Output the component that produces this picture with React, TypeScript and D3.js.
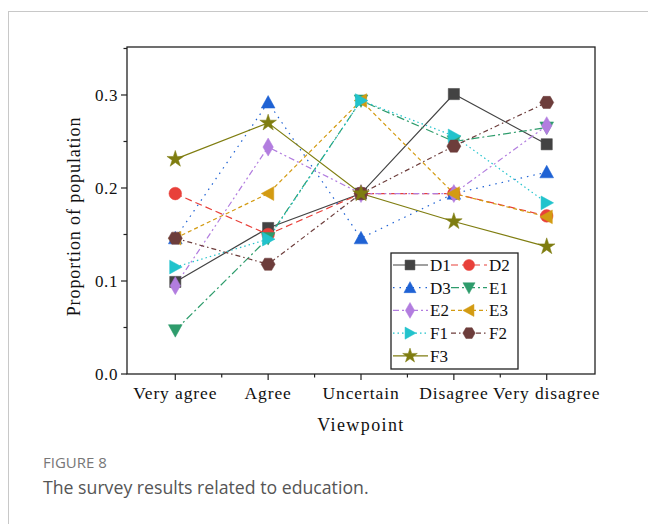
import React from "react";
import * as d3 from "d3";

const categories = ["Very agree", "Agree", "Uncertain", "Disagree", "Very disagree"];
const seriesNames = ["D1", "D2", "D3", "E1", "E2", "E3", "F1", "F2", "F3"];
const D1 = [0.099, 0.157, 0.194, 0.301, 0.247];
const D2 = [0.194, 0.15, 0.194, 0.194, 0.17];
const D3 = [0.146, 0.292, 0.146, 0.194, 0.217];
const E1 = [0.047, 0.146, 0.294, 0.25, 0.265];
const E2 = [0.095, 0.244, 0.194, 0.194, 0.267];
const E3 = [0.146, 0.194, 0.294, 0.194, 0.169];
const F1 = [0.115, 0.145, 0.294, 0.256, 0.184];
const F2 = [0.146, 0.118, 0.194, 0.245, 0.292];
const F3 = [0.231, 0.27, 0.194, 0.164, 0.137];
const seriesValues = [D1, D2, D3, E1, E2, E3, F1, F2, F3];
const yTicks = [0, 0.1, 0.2, 0.3];
const yMinorTicks = [0.05, 0.15, 0.25, 0.35];

const colors = ["#434343", "#e8403a", "#1f62d4", "#2e9c6c", "#b27ddf", "#d39b12", "#22c3cc", "#6d3d3b", "#7f7d10"];
const dashes = ["", "7,4", "1.5,5", "8,3,2,3", "6,3,2,3,2,3", "4,3", "1.5,3", "5,3,1.5,3", ""];
const markers = [d3.symbolSquare, d3.symbolCircle, "up", "down", d3.symbolDiamond, "left", "right", "hex", d3.symbolStar];

const serif = "'Liberation Serif', 'Times New Roman', serif";
const sans = "'Open Sans', 'Noto Sans', sans-serif";

function markerPath(m: any, size: number): string {
  const s = size;
  if (m === "up") return `M0,${-s * 0.55}L${s * 0.55},${s * 0.45}L${-s * 0.55},${s * 0.45}Z`;
  if (m === "down") return `M0,${s * 0.55}L${s * 0.55},${-s * 0.45}L${-s * 0.55},${-s * 0.45}Z`;
  if (m === "left") return `M${-s * 0.55},0L${s * 0.45},${-s * 0.55}L${s * 0.45},${s * 0.55}Z`;
  if (m === "right") return `M${s * 0.55},0L${-s * 0.45},${-s * 0.55}L${-s * 0.45},${s * 0.55}Z`;
  if (m === "hex") {
    const r = s * 0.56;
    const pts = d3.range(6).map((i) => {
      const a = (Math.PI / 3) * i;
      return [r * Math.cos(a), r * Math.sin(a)];
    });
    return "M" + pts.map((p) => p.join(",")).join("L") + "Z";
  }
  const area = m === d3.symbolSquare ? s * s * 0.8 : m === d3.symbolStar ? s * s * 0.55 : m === d3.symbolDiamond ? s * s * 0.6 : s * s * 0.8;
  return d3.symbol(m, area)() as string;
}

export default function App() {
  const left = 127, right = 595, top = 47, bottom = 374;
  const x = d3.scaleLinear().domain([0.48, 5.52]).range([left, right]);
  const y = d3.scaleLinear().domain([0, 0.3516]).range([bottom, top]);
  const line = d3.line<number>().x((_, i) => x(i + 1)).y((d) => y(d));
  const msize = 12.5;

  const legendRows = [
    [0, 1],
    [2, 3],
    [4, 5],
    [6, 7],
    [8],
  ];
  const legX = 391, legY = 253, legW = 127, legH = 116;
  const rowY = (r: number) => 265 + r * 22.7;
  const cols = [
    { l0: 393, l1: 428, m: 410, t: 430 },
    { l0: 451, l1: 487, m: 469, t: 489 },
  ];

  return (
    <svg width={648} height={524} style={{ position: "absolute", left: 0, top: 0, background: "#fff" }}>
      <rect x={8.5} y={11.5} width={700} height={600} fill="#fff" stroke="#c8c8c8" strokeWidth={1} />
      {/* frame */}
      <rect x={left} y={top} width={right - left} height={bottom - top} fill="none" stroke="#222" strokeWidth={1.3} />
      {/* y ticks */}
      {yTicks.map((t) => (
        <g key={"y" + t}>
          <line x1={left - 6} x2={left} y1={y(t)} y2={y(t)} stroke="#222" strokeWidth={1.2} />
          <text x={left - 9} y={y(t)} dy="0.35em" textAnchor="end" fontFamily={serif} fontSize={17} letterSpacing={0.6} fill="#111">
            {t.toFixed(1)}
          </text>
        </g>
      ))}
      {yMinorTicks.map((t) => (
        <line key={"ym" + t} x1={left - 3.5} x2={left} y1={y(t)} y2={y(t)} stroke="#222" strokeWidth={1.2} />
      ))}
      {/* x ticks */}
      {categories.map((c, i) => (
        <g key={c}>
          <line x1={x(i + 1)} x2={x(i + 1)} y1={bottom} y2={bottom + 6} stroke="#222" strokeWidth={1.2} />
          <text x={x(i + 1)} y={bottom + 25} textAnchor="middle" fontFamily={serif} fontSize={17.5} letterSpacing={0.9} fill="#111">
            {c}
          </text>
        </g>
      ))}
      {[1.5, 2.5, 3.5, 4.5].map((t) => (
        <line key={"xm" + t} x1={x(t)} x2={x(t)} y1={bottom} y2={bottom + 3.5} stroke="#222" strokeWidth={1.2} />
      ))}
      <text x={(left + right) / 2} y={431} textAnchor="middle" fontFamily={serif} fontSize={18} letterSpacing={1.4} fill="#111">
        Viewpoint
      </text>
      <text
        transform={`translate(80,${(top + bottom) / 2 + 6}) rotate(-90)`}
        textAnchor="middle"
        fontFamily={serif}
        fontSize={18}
        letterSpacing={0.9}
        fill="#111"
      >
        Proportion of population
      </text>
      {/* series */}
      {seriesValues.map((vals, s) => (
        <path key={"l" + s} d={line(vals) as string} fill="none" stroke={colors[s]} strokeWidth={1.2} strokeDasharray={dashes[s]} />
      ))}
      {seriesValues.map((vals, s) => (
        <g key={"m" + s}>
          {vals.map((v, i) => (
            <path key={i} d={markerPath(markers[s], msize)} transform={`translate(${x(i + 1)},${y(v)})`} fill={colors[s]} stroke={colors[s]} strokeWidth={0.5} />
          ))}
        </g>
      ))}
      {/* legend */}
      <rect x={legX} y={legY} width={legW} height={legH} fill="#fff" stroke="#222" strokeWidth={1.3} />
      {legendRows.map((row, r) =>
        row.map((s, c) => {
          const col = cols[c];
          const yy = rowY(r);
          return (
            <g key={"lg" + s}>
              <line x1={col.l0} x2={col.l1} y1={yy} y2={yy} stroke={colors[s]} strokeWidth={1.2} strokeDasharray={dashes[s]} />
              <path d={markerPath(markers[s], 11)} transform={`translate(${col.m},${yy})`} fill={colors[s]} stroke={colors[s]} strokeWidth={0.5} />
              <text x={col.t} y={yy} dy="0.35em" fontFamily={serif} fontSize={17} fill="#111">
                {seriesNames[s]}
              </text>
            </g>
          );
        })
      )}
      {/* caption */}
      <text x={43} y={468} fontFamily={sans} fontSize={15} fill="#777">
        FIGURE 8
      </text>
      <text x={43} y={494} fontFamily={sans} fontSize={17.7} fill="#555">
        The survey results related to education.
      </text>
    </svg>
  );
}
